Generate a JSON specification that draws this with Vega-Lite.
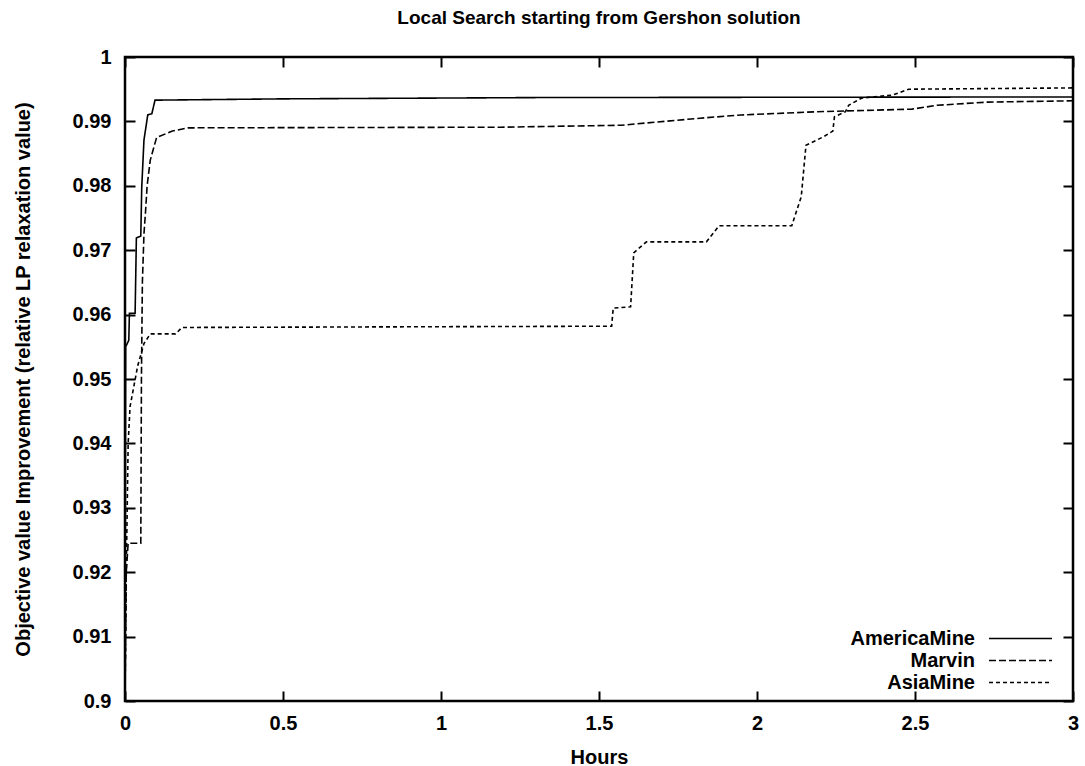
{
  "$schema": "https://vega.github.io/schema/vega-lite/v6.json",
  "autosize": "none",
  "width": 948,
  "height": 644,
  "padding": {"left": 125, "top": 57, "right": 12, "bottom": 65},
  "background": "white",
  "title": {"text": "Local Search starting from Gershon solution", "fontSize": 19, "font": "Liberation Sans", "fontWeight": "bold", "color": "black", "offset": 19, "anchor": "middle"},
  "config": {
    "view": {"stroke": "black", "strokeWidth": 2.5},
    "font": "Liberation Sans",
    "axis": {"domain": false, "grid": false, "tickColor": "black", "tickWidth": 2, "labelColor": "black", "titleColor": "black", "labelFont": "Liberation Sans", "titleFont": "Liberation Sans", "labelFontWeight": "bold", "titleFontWeight": "bold"}
  },
  "data": {"values": [
    {"series": "AmericaMine", "hours": 0, "value": 0.9},
    {"series": "AmericaMine", "hours": 0.002, "value": 0.955},
    {"series": "AmericaMine", "hours": 0.012, "value": 0.956},
    {"series": "AmericaMine", "hours": 0.014, "value": 0.9602},
    {"series": "AmericaMine", "hours": 0.032, "value": 0.9602},
    {"series": "AmericaMine", "hours": 0.036, "value": 0.9719},
    {"series": "AmericaMine", "hours": 0.05, "value": 0.9722},
    {"series": "AmericaMine", "hours": 0.053, "value": 0.9798},
    {"series": "AmericaMine", "hours": 0.06, "value": 0.9871},
    {"series": "AmericaMine", "hours": 0.072, "value": 0.991},
    {"series": "AmericaMine", "hours": 0.085, "value": 0.9912},
    {"series": "AmericaMine", "hours": 0.095, "value": 0.9933},
    {"series": "AmericaMine", "hours": 0.5, "value": 0.9935},
    {"series": "AmericaMine", "hours": 1.3, "value": 0.9937},
    {"series": "AmericaMine", "hours": 3.0, "value": 0.9938},
    {"series": "Marvin", "hours": 0, "value": 0.9},
    {"series": "Marvin", "hours": 0.004, "value": 0.92},
    {"series": "Marvin", "hours": 0.01, "value": 0.9245},
    {"series": "Marvin", "hours": 0.05, "value": 0.9245},
    {"series": "Marvin", "hours": 0.052, "value": 0.95},
    {"series": "Marvin", "hours": 0.055, "value": 0.965},
    {"series": "Marvin", "hours": 0.06, "value": 0.9725},
    {"series": "Marvin", "hours": 0.065, "value": 0.976},
    {"series": "Marvin", "hours": 0.07, "value": 0.98},
    {"series": "Marvin", "hours": 0.08, "value": 0.984},
    {"series": "Marvin", "hours": 0.1, "value": 0.9875},
    {"series": "Marvin", "hours": 0.15, "value": 0.9885},
    {"series": "Marvin", "hours": 0.2, "value": 0.989},
    {"series": "Marvin", "hours": 1.19, "value": 0.9891},
    {"series": "Marvin", "hours": 1.57, "value": 0.9894},
    {"series": "Marvin", "hours": 1.82, "value": 0.9905},
    {"series": "Marvin", "hours": 1.95, "value": 0.991},
    {"series": "Marvin", "hours": 2.19, "value": 0.9915},
    {"series": "Marvin", "hours": 2.49, "value": 0.9919},
    {"series": "Marvin", "hours": 2.57, "value": 0.9925},
    {"series": "Marvin", "hours": 2.73, "value": 0.993},
    {"series": "Marvin", "hours": 3.0, "value": 0.9932},
    {"series": "AsiaMine", "hours": 0, "value": 0.9},
    {"series": "AsiaMine", "hours": 0.004, "value": 0.92},
    {"series": "AsiaMine", "hours": 0.01, "value": 0.94},
    {"series": "AsiaMine", "hours": 0.016, "value": 0.9457},
    {"series": "AsiaMine", "hours": 0.04, "value": 0.952},
    {"series": "AsiaMine", "hours": 0.06, "value": 0.9555},
    {"series": "AsiaMine", "hours": 0.08, "value": 0.957},
    {"series": "AsiaMine", "hours": 0.16, "value": 0.957},
    {"series": "AsiaMine", "hours": 0.18, "value": 0.958},
    {"series": "AsiaMine", "hours": 1.54, "value": 0.9582},
    {"series": "AsiaMine", "hours": 1.545, "value": 0.961},
    {"series": "AsiaMine", "hours": 1.6, "value": 0.9612},
    {"series": "AsiaMine", "hours": 1.61, "value": 0.9696},
    {"series": "AsiaMine", "hours": 1.65, "value": 0.9713},
    {"series": "AsiaMine", "hours": 1.84, "value": 0.9713},
    {"series": "AsiaMine", "hours": 1.88, "value": 0.9738},
    {"series": "AsiaMine", "hours": 2.11, "value": 0.9738},
    {"series": "AsiaMine", "hours": 2.14, "value": 0.9783},
    {"series": "AsiaMine", "hours": 2.155, "value": 0.9863},
    {"series": "AsiaMine", "hours": 2.21, "value": 0.9876},
    {"series": "AsiaMine", "hours": 2.24, "value": 0.9885},
    {"series": "AsiaMine", "hours": 2.245, "value": 0.9907},
    {"series": "AsiaMine", "hours": 2.28, "value": 0.9915},
    {"series": "AsiaMine", "hours": 2.29, "value": 0.9925},
    {"series": "AsiaMine", "hours": 2.33, "value": 0.9936},
    {"series": "AsiaMine", "hours": 2.43, "value": 0.9941},
    {"series": "AsiaMine", "hours": 2.48, "value": 0.995},
    {"series": "AsiaMine", "hours": 3.0, "value": 0.9952}
  ]},
  "layer": [
    {
      "mark": {"type": "line", "strokeWidth": 1.6, "color": "black", "clip": true},
      "encoding": {
        "x": {"field": "hours", "type": "quantitative", "scale": {"domain": [0, 3], "nice": false, "zero": false},
              "axis": {"title": "Hours", "titleFontSize": 20, "titlePadding": 14, "labelFontSize": 20, "values": [0, 0.5, 1, 1.5, 2, 2.5, 3], "labelExpr": "datum.value", "tickSize": -10, "labelPadding": 22, "orient": "bottom", "labelFlush": false}},
        "y": {"field": "value", "type": "quantitative", "scale": {"domain": [0.9, 1], "nice": false, "zero": false},
              "axis": {"title": "Objective value Improvement (relative LP relaxation value)", "titleFontSize": 20, "titlePadding": 39, "labelFontSize": 20, "values": [0.9, 0.91, 0.92, 0.93, 0.94, 0.95, 0.96, 0.97, 0.98, 0.99, 1], "labelExpr": "datum.value", "tickSize": -10, "labelPadding": 24, "orient": "left"}},
        "detail": {"field": "series"},
        "strokeDash": {"field": "series", "type": "nominal",
          "scale": {"domain": ["AmericaMine", "Marvin", "AsiaMine"], "range": [[1, 0], [7, 3], [4, 3]]},
          "legend": {"title": null, "orient": "none", "legendX": 884, "legendY": 570, "labelFontSize": 20, "labelFontWeight": "bold", "symbolStrokeColor": "black", "symbolStrokeWidth": 1.5, "symbolSize": 441, "symbolType": "M-3,0H3", "labelAlign": "right", "labelOffset": -57, "rowPadding": 0, "labelColor": "black"}}
      }
    },
    {
      "mark": {"type": "point", "opacity": 0},
      "encoding": {
        "x": {"field": "hours", "type": "quantitative", "axis": {"orient": "top", "title": null, "labels": false, "values": [0, 0.5, 1, 1.5, 2, 2.5, 3], "tickSize": -10}},
        "y": {"field": "value", "type": "quantitative", "axis": {"orient": "right", "title": null, "labels": false, "values": [0.9, 0.91, 0.92, 0.93, 0.94, 0.95, 0.96, 0.97, 0.98, 0.99, 1], "tickSize": -10}}
      }
    }
  ],
  "resolve": {"axis": {"x": "independent", "y": "independent"}}
}
